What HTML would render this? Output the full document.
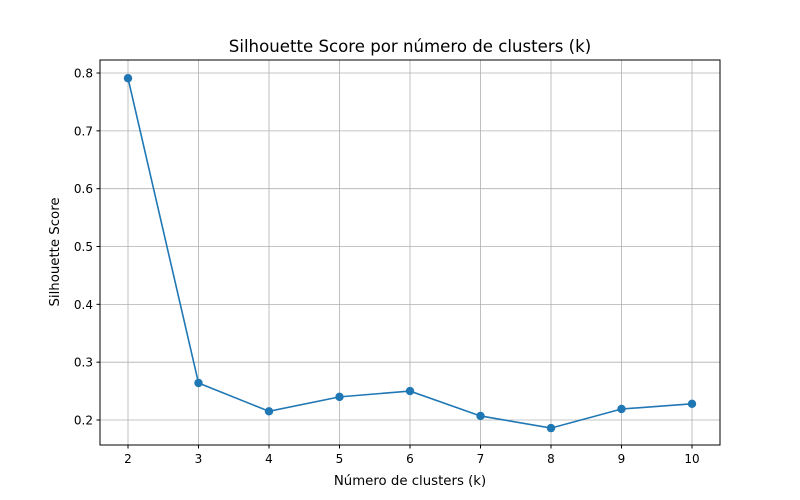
<!DOCTYPE html>
<html><head><meta charset="utf-8"><style>
body{margin:0;background:#fff;}
svg{display:block;font-family:"DejaVu Sans","Liberation Sans",sans-serif;}
</style></head><body>
<svg id="chart" width="800" height="500">
<rect x="0" y="0" width="800" height="500" fill="#fff"/>
<text x="410" y="52" text-anchor="middle" font-size="16.6">Silhouette Score por número de clusters (k)</text>
<text x="410" y="485" text-anchor="middle" font-size="13.3">Número de clusters (k)</text>
<text transform="translate(59,252) rotate(-90)" text-anchor="middle" font-size="13.3">Silhouette Score</text>
<g id="grid"></g><g id="ticks"></g><g id="series"></g>
<rect x="100" y="60" width="620" height="385" fill="none" stroke="#000" stroke-width="1"/>
</svg>
<script>
const categories=[2,3,4,5,6,7,8,9,10];
const scores=[0.791,0.264,0.215,0.240,0.250,0.207,0.186,0.219,0.228];
const yTicks=[0.2,0.3,0.4,0.5,0.6,0.7,0.8];
const yTickLabels=["0.2","0.3","0.4","0.5","0.6","0.7","0.8"];
const NS="http://www.w3.org/2000/svg";
function xs(v){return 128+(v-2)*70.5;}
function ys(v){return 420-(v-0.2)*578.3;}
const grid=document.getElementById('grid'),ticks=document.getElementById('ticks'),ser=document.getElementById('series');
function mk(tag,attrs,parent){const e=document.createElementNS(NS,tag);for(const k in attrs)e.setAttribute(k,attrs[k]);parent.appendChild(e);return e;}
categories.forEach(c=>{
 const g=mk('line',{x1:xs(c),x2:xs(c),y1:60,y2:445,stroke:'#b0b0b0','stroke-width':0.8},grid);
 
 
 mk('line',{x1:xs(c),x2:xs(c),y1:445,y2:448.5,stroke:'#000'},ticks);
 const t=mk('text',{x:xs(c),y:463,'text-anchor':'middle','font-size':12},ticks);t.textContent=c;
 
 
});
yTicks.forEach((v,i)=>{
 const g=mk('line',{x1:100,x2:720,y1:ys(v),y2:ys(v),stroke:'#b0b0b0','stroke-width':0.8},grid);
 
 
 mk('line',{x1:96.5,x2:100,y1:ys(v),y2:ys(v),stroke:'#000'},ticks);
 const t=mk('text',{x:93,y:ys(v)+4.5,'text-anchor':'end','font-size':12},ticks);t.textContent=yTickLabels[i];
 
 
});
const pts=categories.map((c,i)=>xs(c)+','+ys(scores[i])).join(' ');
const line=mk('polyline',{points:pts,fill:'none',stroke:'#1f77b4','stroke-width':1.6},ser);


categories.forEach((c,i)=>{
 const p=mk('circle',{cx:xs(c),cy:ys(scores[i]),r:4.2,fill:'#1f77b4'},ser);
 
 
});
</script>
</body></html>
